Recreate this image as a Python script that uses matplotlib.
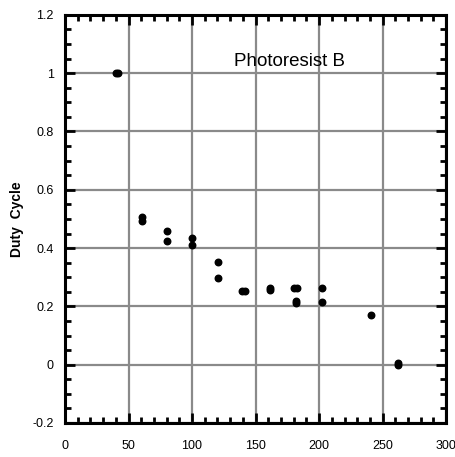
import matplotlib
matplotlib.use('Agg')
import matplotlib.pyplot as plt
from matplotlib.ticker import MultipleLocator

plt.rcParams['font.family'] = ['Liberation Sans', 'DejaVu Sans']

# exposure time (x) vs duty cycle
x = [40, 41.5, 60.5, 60.5, 80, 80, 100, 100, 120.5, 120.5, 139.5, 142,
     161, 161, 180.5, 182.5, 181.5, 182, 202, 202, 241, 262, 262]
y = [1.0, 1.0, 0.492, 0.505, 0.458, 0.423, 0.435, 0.412, 0.352, 0.298, 0.253, 0.253,
     0.255, 0.264, 0.262, 0.262, 0.212, 0.22, 0.262, 0.215, 0.169, -0.002, 0.006]

xticks = [0, 50, 100, 150, 200, 250, 300]
yticks = [-0.2, 0, 0.2, 0.4, 0.6, 0.8, 1, 1.2]
ylabels = ['-0.2', '0', '0.2', '0.4', '0.6', '0.8', '1', '1.2']

fig = plt.figure(figsize=(4.56, 4.57), dpi=100)
ax = fig.add_axes([0.1425, 0.0744, 0.836, 0.893])

ax.grid(True, color='#8a8a8a', linewidth=1.6, zorder=0)
ax.scatter(x, y, s=22, color='black', zorder=3)

ax.set_xlim(0, 300)
ax.set_ylim(-0.2, 1.2)
ax.set_xticks(xticks)
ax.set_yticks(yticks)
ax.set_yticklabels(ylabels)
ax.xaxis.set_minor_locator(MultipleLocator(10))
ax.yaxis.set_minor_locator(MultipleLocator(0.05))

ax.tick_params(which='both', direction='in', top=True, right=True, width=2, colors='black',
               labelsize=9)
ax.tick_params(which='major', length=7)
ax.tick_params(which='minor', length=4)
ax.tick_params(axis='x', pad=12)
ax.tick_params(axis='y', pad=8)
for sp in ax.spines.values():
    sp.set_linewidth(2.2)

ax.set_ylabel('Duty  Cycle', fontsize=10, fontweight='bold', labelpad=6)
ax.text(177, 1.04, 'Photoresist B', fontsize=13.5, ha='center', va='center')

plt.savefig('out.png', dpi=100)
